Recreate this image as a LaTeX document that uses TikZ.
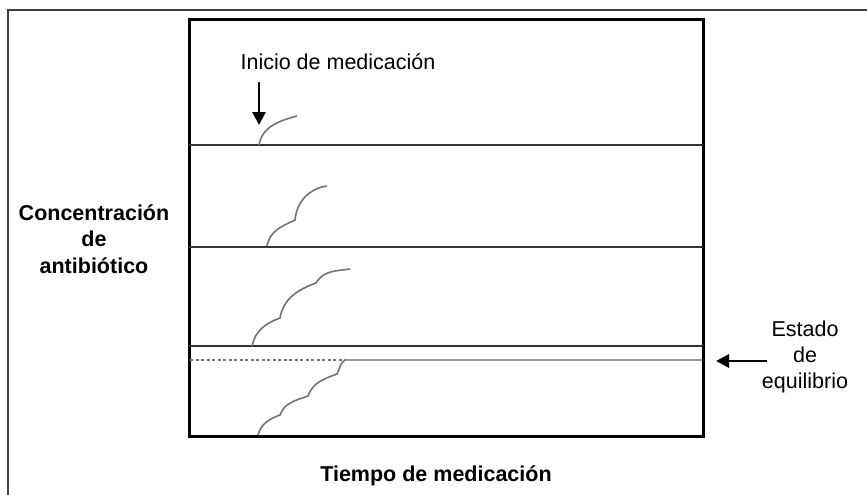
\documentclass[tikz,border=0pt]{standalone}
\usepackage{fontspec}
\setmainfont{Liberation Sans}
\usetikzlibrary{arrows.meta}
\begin{document}
\begin{tikzpicture}[x=1pt,y=-1pt,
  lbl/.style={font=\fontsize{21.5}{26}\selectfont, inner sep=0pt, align=center},
  blbl/.style={font=\fontsize{21.5}{26.5}\selectfont\bfseries, inner sep=0pt, align=center},
  panel/.style={line width=2pt, draw=black!80},
  curve/.style={line width=1.6pt, draw=black!55},
  pointer/.style={line width=2.8pt, -{Triangle[length=13pt,width=13pt]}}]
\useasboundingbox (0,0) rectangle (867,495);
% outer frame
\draw[line width=1.5pt, black!75] (8,495) -- (8,10) -- (867,10);
% main box
\draw[line width=3pt] (189,20) rectangle (703,436);
\draw[panel] (189,145) -- (703,145);
\draw[panel] (189,247) -- (703,247);
\draw[panel] (189,346) -- (703,346);
% equilibrium line
\coordinate (eqs) at (345,360);
\draw[line width=1.6pt, black!55, dash pattern=on 3pt off 2.5pt] (190,360) -- (eqs);
\draw[line width=2pt, black!40] (eqs) -- (702,360);
% curves
\draw[curve] (259,145) to[out=80,in=195] (297,116);
\draw[curve] (267,246) to[out=80,in=205] (295,220) to[out=85,in=188] (327,186);
\draw[curve] (252,346) to[out=78,in=200] (280,318) to[out=80,in=200] (316,283) to[out=60,in=188] (350,269);
\draw[curve] (258,435) to[out=75,in=200] (280,415) to[out=70,in=200] (308,396) to[out=70,in=200] (337,374) to[out=60,in=210] (eqs);
% texts
\node[lbl] (inicio) at (338,62) {Inicio de medicación};
\coordinate (a1s) at (259,82);
\coordinate (a1e) at (259,125);
\draw[pointer] (a1s) -- (a1e);
\node[lbl] (estado) at (805,357) {Estado\\de\\equilibrio};
\coordinate (a2s) at (767,361);
\coordinate (a2e) at (716,361);
\draw[pointer] (a2s) -- (a2e);
\node[blbl] (conc) at (94,239) {Concentración\\de\\antibiótico};
\node[blbl] (tiempo) at (436,476) {Tiempo de medicación};
\end{tikzpicture}
\end{document}
